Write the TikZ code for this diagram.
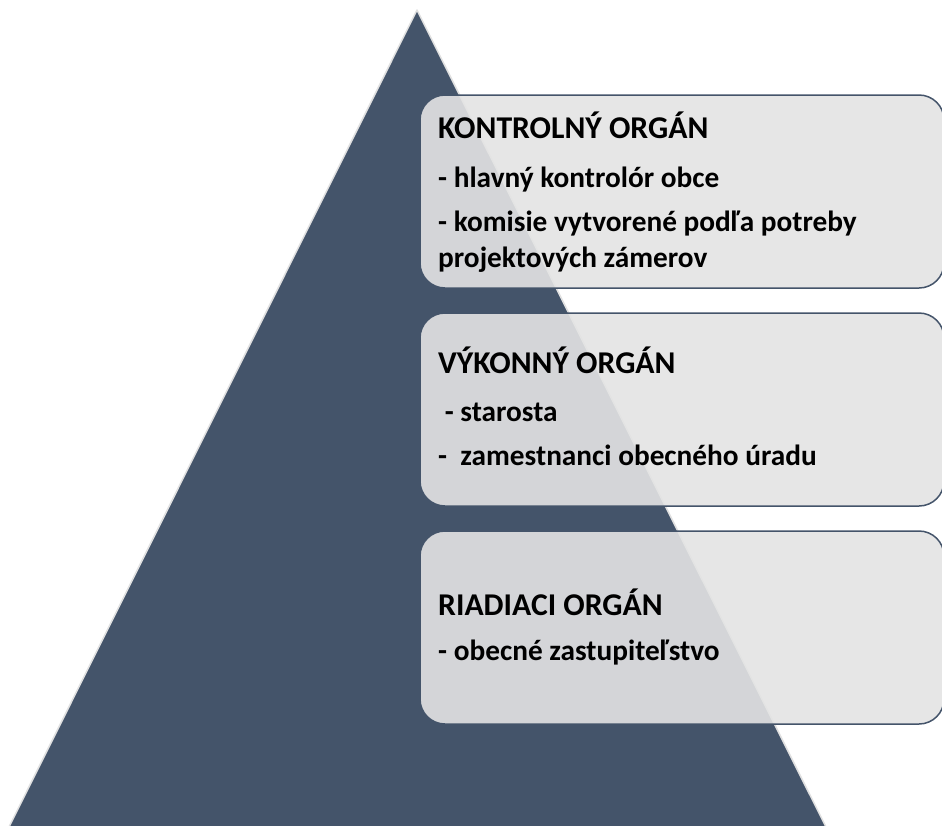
\documentclass[tikz,border=0pt]{standalone}
\usepackage{fontspec}
\setmainfont{Carlito}
\definecolor{navy}{HTML}{44546A}
\definecolor{boxfill}{HTML}{E4E4E4}
\tikzset{
  boxshape/.style={draw=navy, line width=1.5pt, fill=boxfill, fill opacity=0.9, draw opacity=1,
    rounded corners=25pt, minimum width=524pt, minimum height=193pt, inner sep=0pt, text opacity=1},
  txt/.style={anchor=base west, inner sep=0pt, font=\fontsize{29.3}{31}\selectfont\bfseries, text=black},
  head/.style={txt, font=\fontsize{31.7}{33}\selectfont\bfseries}
}
\begin{document}
\begin{tikzpicture}[x=1pt,y=-1pt]
\useasboundingbox (0,0) rectangle (942,825);
\clip (0,0) rectangle (942,825);
\fill[white] (0,0) rectangle (942,825);
\coordinate (apex) at (417,10);
\coordinate (bl) at (-10,865);
\coordinate (br) at (845,865);
\filldraw[fill=navy, draw=black!12, line width=1.5pt, line join=round] (apex) -- (br) -- (bl) -- cycle;
\node[boxshape] (b1) at (682,191.5) {};
\node[boxshape] (b2) at (682,409.5) {};
\node[boxshape] (b3) at (682,627.5) {};
\node[head] (t11) at (438,138) {KONTROLNÝ ORGÁN};
\node[txt] (t12) at (438,187) {- hlavný kontrolór obce};
\node[txt] (t13) at (438,231) {- komisie vytvorené podľa potreby};
\node[txt] (t14) at (438,267) {projektových zámerov};
\node[head] (t21) at (438,373) {VÝKONNÝ ORGÁN};
\node[txt] (t22) at (438,421) {\ - starosta};
\node[txt] (t23) at (438,465) {-\ \ zamestnanci obecného úradu};
\node[head] (t31) at (438,615) {RIADIACI ORGÁN};
\node[txt] (t32) at (438,660) {- obecné zastupiteľstvo};
\end{tikzpicture}
\end{document}
